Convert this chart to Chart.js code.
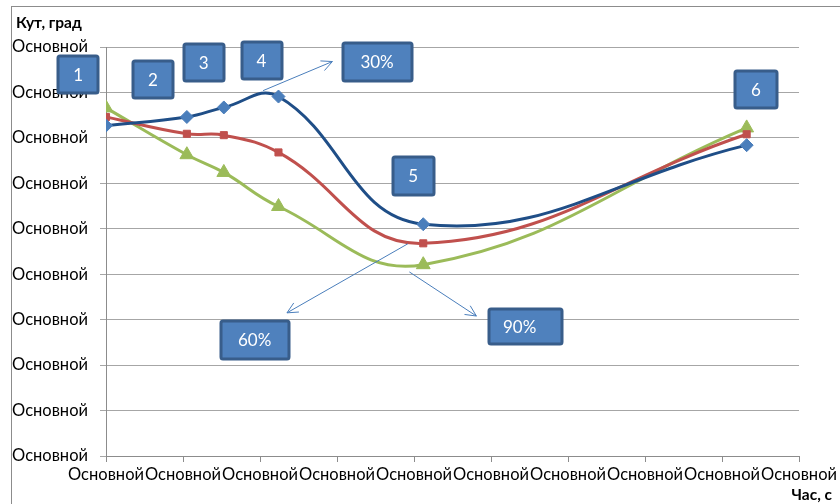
<!DOCTYPE html>
<html lang="uk">
<head>
<meta charset="utf-8">
<script src="https://cdn.jsdelivr.net/npm/chart.js@4.4.1/dist/chart.umd.min.js"></script>
<style>
  html, body { margin: 0; padding: 0; background: #fff; }
  #wrap { width: 840px; height: 504px; position: relative; }
</style>
</head>
<body>
<div id="wrap"><canvas id="chart" width="840" height="504"></canvas></div>
<script>
// data (x = time, y = angle)
const timeValues = [0, 1.05, 1.53, 2.24, 4.12, 8.32];
const angleBlue = [7.27, 7.46, 7.67, 7.91, 5.10, 6.84];
const angleRed = [7.46, 7.09, 7.06, 6.68, 4.68, 7.08];
const angleGreen = [7.66, 6.63, 6.24, 5.49, 4.21, 7.22];

const axisTicks = [0, 1, 2, 3, 4, 5, 6, 7, 8, 9];
const tickLabel = "Основной";
const yTitle = "Кут, град";
const xTitle = "Час, с";

// callout boxes and arrows, placed in data units
const callouts = [
  { text: "1", x: -0.36, y: 8.40, w: 40, h: 37 },
  { text: "2", x: 0.61, y: 8.29, w: 40, h: 37 },
  { text: "3", x: 1.27, y: 8.66, w: 40, h: 37 },
  { text: "4", x: 2.02, y: 8.71, w: 40, h: 37 },
  { text: "30%", x: 3.52, y: 8.68, w: 69, h: 38 },
  { text: "5", x: 3.99, y: 6.17, w: 41, h: 38 },
  { text: "6", x: 8.44, y: 8.07, w: 42, h: 37 },
  { text: "60%", x: 1.93, y: 2.56, w: 68, h: 38 },
  { text: "90%", x: 5.45, y: 2.85, w: 73, h: 35, align: "left" }
];
const arrows = [
  { from: [2.04, 8.04], to: [2.94, 8.68] },
  { from: [3.92, 4.67], to: [2.35, 3.15] },
  { from: [3.94, 4.05], to: [4.81, 3.08] }
];

const toPoints = (ys) => timeValues.map((x, i) => ({ x: x, y: ys[i] }));

const series = (data, line, marker, style, radius) => ({
  data: toPoints(data),
  showLine: true,
  borderColor: line,
  borderWidth: 3,
  tension: 0.42,
  pointStyle: style,
  pointRadius: radius,
  pointBackgroundColor: marker,
  pointBorderColor: marker,
  pointBorderWidth: 1
});

const decorPlugin = {
  id: "decor",
  beforeDraw(chart) {
    const ctx = chart.ctx;
    ctx.save();
    ctx.strokeStyle = "#8c8c8c";
    ctx.lineWidth = 1;
    ctx.strokeRect(11.5, 6.5, 840, 510);
    ctx.restore();
  },
  afterDatasetsDraw(chart) {
    const ctx = chart.ctx;
    const xs = chart.scales.x;
    const ys = chart.scales.y;
    ctx.save();

    // arrows
    ctx.strokeStyle = "#4a7ebb";
    ctx.lineWidth = 1;
    arrows.forEach((a) => {
      const x1 = xs.getPixelForValue(a.from[0]);
      const y1 = ys.getPixelForValue(a.from[1]);
      const x2 = xs.getPixelForValue(a.to[0]);
      const y2 = ys.getPixelForValue(a.to[1]);
      const ang = Math.atan2(y2 - y1, x2 - x1);
      ctx.beginPath();
      ctx.moveTo(x1, y1);
      ctx.lineTo(x2, y2);
      ctx.moveTo(x2 - 12 * Math.cos(ang - 0.45), y2 - 12 * Math.sin(ang - 0.45));
      ctx.lineTo(x2, y2);
      ctx.lineTo(x2 - 12 * Math.cos(ang + 0.45), y2 - 12 * Math.sin(ang + 0.45));
      ctx.stroke();
    });

    // boxes
    callouts.forEach((c) => {
      const cx = xs.getPixelForValue(c.x);
      const cy = ys.getPixelForValue(c.y);
      const left = Math.round(cx - c.w / 2);
      const top = Math.round(cy - c.h / 2);
      ctx.fillStyle = "#4f81bd";
      ctx.strokeStyle = "#385d8a";
      ctx.lineWidth = 3;
      ctx.beginPath();
      ctx.roundRect(left, top, c.w, c.h, 2);
      ctx.fill();
      ctx.stroke();
      ctx.fillStyle = "#ffffff";
      ctx.font = "17px Lato";
      ctx.textBaseline = "middle";
      if (c.align === "left") {
        ctx.textAlign = "left";
        ctx.fillText(c.text, left + 14, cy + 1);
      } else {
        ctx.textAlign = "center";
        ctx.fillText(c.text, cx, cy + 1);
      }
    });

    // axis titles
    ctx.fillStyle = "#000";
    ctx.font = "bold 15.5px Lato";
    ctx.textBaseline = "middle";
    ctx.textAlign = "left";
    ctx.fillText(yTitle, 16, 23);
    ctx.textAlign = "right";
    ctx.fillText(xTitle, 832, 495);
    ctx.restore();
  }
};

const tickFont = { family: "Lato", size: 16.5 };

new Chart(document.getElementById("chart"), {
  type: "scatter",
  data: {
    datasets: [
      series(angleBlue, "#1f4e87", "#4a7ebb", "rectRot", 6.5),
      series(angleRed, "#c0504d", "#c0504d", "rect", 5),
      series(angleGreen, "#9bbb59", "#9bbb59", "triangle", 8)
    ]
  },
  options: {
    responsive: false,
    animation: false,
    layout: { padding: { left: 0, right: 40, top: 47, bottom: 0 } },
    plugins: { legend: { display: false }, tooltip: { enabled: false } },
    scales: {
      x: {
        type: "linear",
        min: axisTicks[0],
        max: axisTicks[axisTicks.length - 1],
        afterBuildTicks: (s) => { s.ticks = axisTicks.map((v) => ({ value: v })); },
        afterFit: (s) => { s.height = 48; },
        grid: { drawOnChartArea: false, drawTicks: true, tickLength: 6, color: "#8c8c8c" },
        border: { color: "#8c8c8c" },
        ticks: { callback: () => tickLabel, font: tickFont, color: "#000", padding: 3, maxRotation: 0, autoSkip: false }
      },
      y: {
        type: "linear",
        min: axisTicks[0],
        max: axisTicks[axisTicks.length - 1],
        afterBuildTicks: (s) => { s.ticks = axisTicks.map((v) => ({ value: v })); },
        afterFit: (s) => { s.width = 106; },
        grid: { color: "#a6a6a6", tickLength: 6 },
        border: { color: "#8c8c8c" },
        ticks: { callback: () => tickLabel, font: tickFont, color: "#000", padding: 12, autoSkip: false }
      }
    }
  },
  plugins: [decorPlugin]
});
</script>
</body>
</html>
